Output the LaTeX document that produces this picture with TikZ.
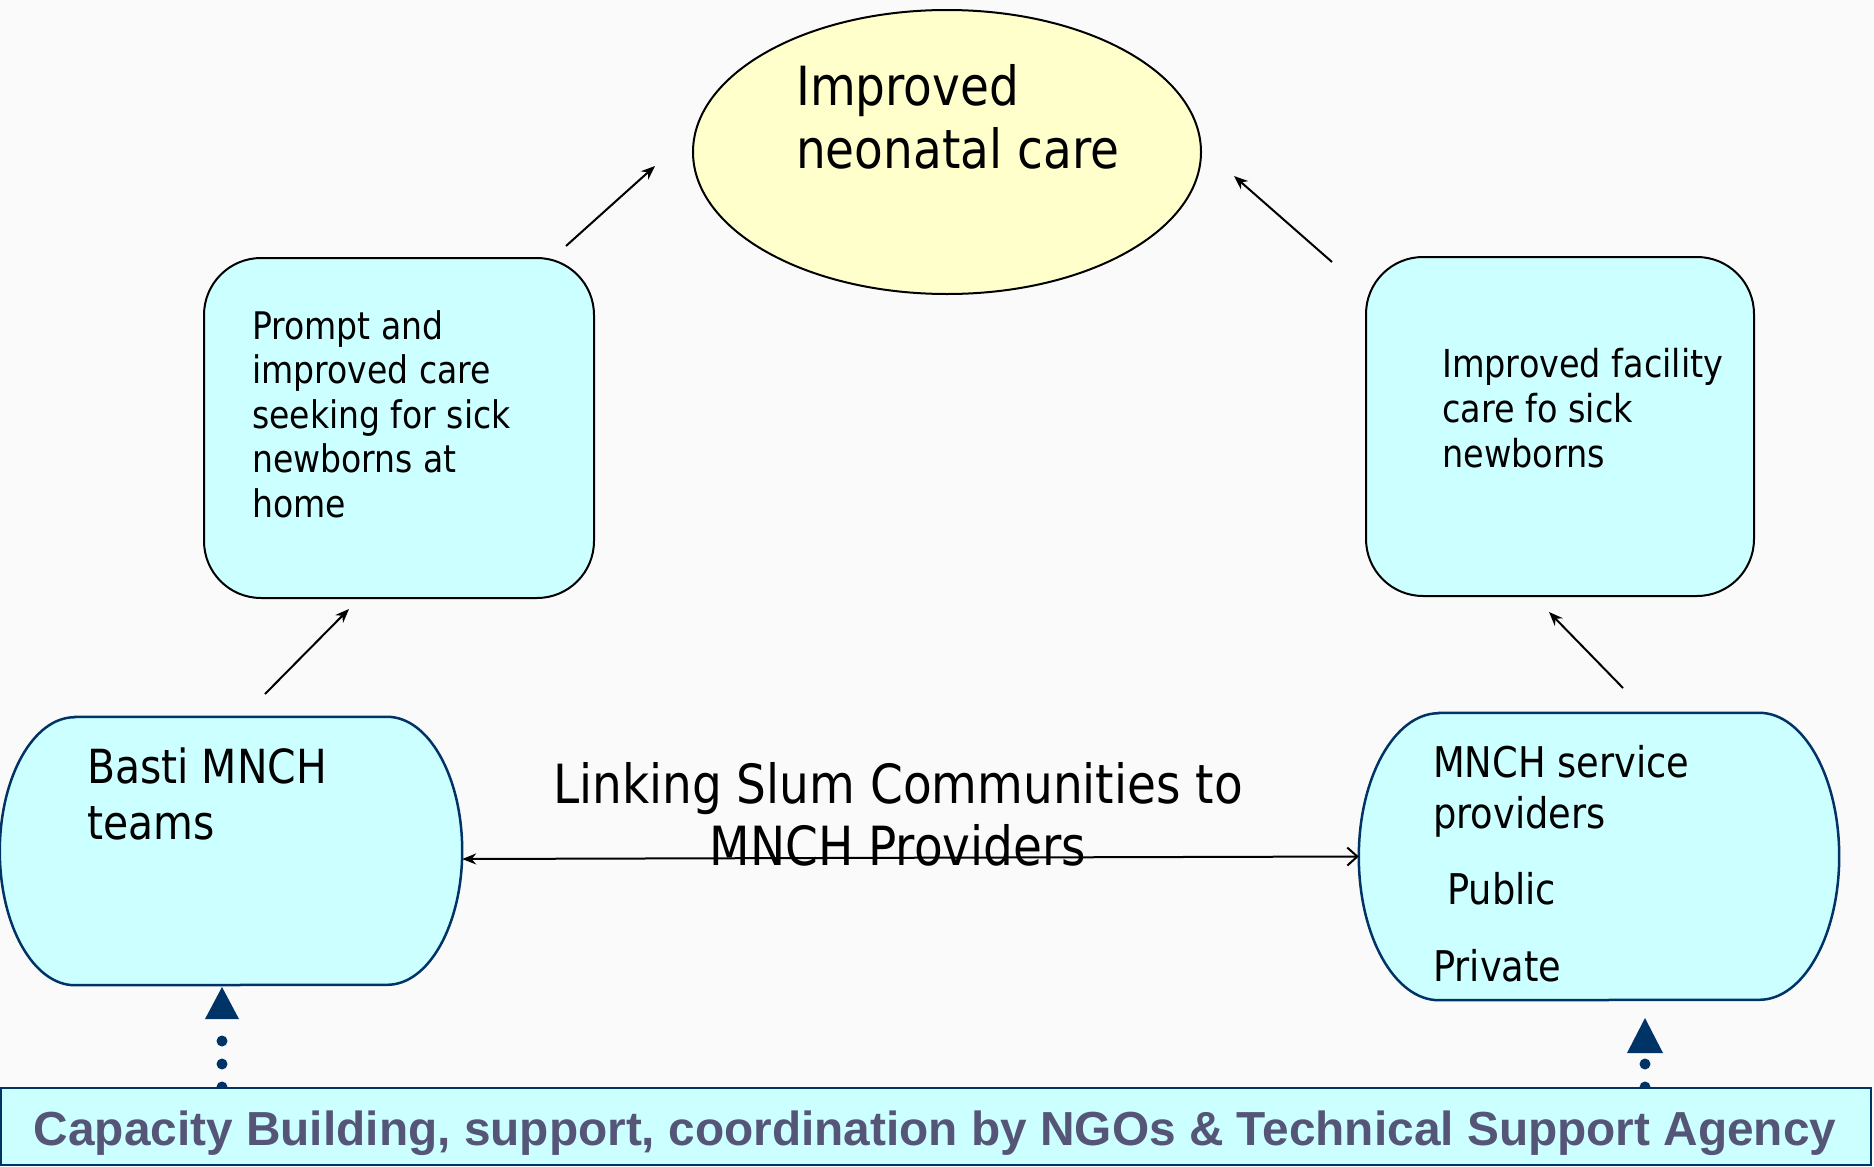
\documentclass[tikz,border=0pt]{standalone}
\usepackage{fontspec}
\setmainfont{DejaVu Sans}[FakeStretch=0.87]
\newfontfamily\bannerfont{Liberation Sans}
\usetikzlibrary{arrows.meta,shapes.geometric}
\definecolor{bg}{HTML}{FAFAFA}
\definecolor{cyanfill}{HTML}{CCFFFF}
\definecolor{yellowfill}{HTML}{FFFFCC}
\definecolor{navy}{HTML}{003366}
\definecolor{bannertext}{HTML}{555577}
\tikzset{
  goalshape/.style={ellipse, draw=black, line width=2pt, fill=yellowfill, inner sep=0pt},
  outcomebox/.style={draw=black, line width=2pt, fill=cyanfill, rounded corners=57pt, inner sep=0pt},
  stadiumbox/.style={draw=navy, line width=2.5pt, fill=cyanfill},
  anchorbox/.style={inner sep=0pt},
  txt/.style={inner sep=0pt, align=left, anchor=base west},
  flowarrow/.style={line width=2pt, -{Stealth[length=14pt,width=11pt]}},
  linkarrow/.style={line width=2pt, {Stealth[length=14pt,width=11pt]}-{Straight Barb[length=10pt,width=18pt]}},
  dotline/.style={draw=navy, line width=11pt, line cap=round, dash pattern=on 0pt off 23pt},
  tipfill/.style={fill=navy},
  bannerbox/.style={draw=navy, line width=2.5pt, fill=cyanfill, inner sep=0pt}
}
\begin{document}
\begin{tikzpicture}[x=1pt,y=-1pt]
\fill[bg] (0,0) rectangle (1874,1167);
\useasboundingbox (0,0) rectangle (1874,1167);

% goal ellipse
\node[goalshape, minimum width=508pt, minimum height=284pt] (goal) at (947,152) {};
\node[txt, font=\fontsize{54}{63}\selectfont] (goaltxt) at (796,168) {Improved\\neonatal care};

% outcome boxes
\node[outcomebox, minimum width=390pt, minimum height=340pt] (home) at (399,428) {};
\node[txt, font=\fontsize{38}{44.5}\selectfont] (hometxt) at (252,517) {Prompt and\\improved care\\seeking for sick\\newborns at\\home};

\node[outcomebox, minimum width=388pt, minimum height=339pt] (fac) at (1560,426.5) {};
\node[txt, font=\fontsize{38.5}{44.8}\selectfont] (factxt) at (1442,467) {Improved facility\\care fo sick\\newborns};

% stadium boxes
\node[anchorbox, minimum width=462pt, minimum height=268pt] (basti) at (231,851) {};
\draw[stadiumbox] ([xshift=75pt]basti.north west) -- ([xshift=-75pt]basti.north east)
  arc[start angle=90, end angle=-90, x radius=75pt, y radius=134pt]
  -- ([xshift=75pt]basti.south west)
  arc[start angle=270, end angle=90, x radius=75pt, y radius=134pt] -- cycle;
\node[txt, font=\fontsize{47}{56}\selectfont] (bastitxt) at (87,839) {Basti MNCH\\teams};

\node[anchorbox, minimum width=480pt, minimum height=287pt] (prov) at (1599,856.5) {};
\draw[stadiumbox] ([xshift=80pt]prov.north west) -- ([xshift=-80pt]prov.north east)
  arc[start angle=90, end angle=-90, x radius=80pt, y radius=143.5pt]
  -- ([xshift=80pt]prov.south west)
  arc[start angle=270, end angle=90, x radius=80pt, y radius=143.5pt] -- cycle;
\node[txt, font=\fontsize{42.3}{51}\selectfont] (provtxt) at (1433,981) {MNCH service\\providers\\[25pt]\hspace*{14pt}Public\\[26pt]Private};

% link label and arrow
\node[inner sep=0pt, align=center, anchor=base, font=\fontsize{54}{62}\selectfont] (linktxt) at (898,865) {Linking Slum Communities to\\MNCH Providers};
\draw[linkarrow] ([yshift=-8pt]basti.east) -- (prov.west);

% diagonal arrows
\coordinate (a1s) at (566,246); \coordinate (a1e) at (655,166);
\coordinate (a2s) at (1332,262); \coordinate (a2e) at (1234,176);
\coordinate (a3s) at (265,694); \coordinate (a3e) at (349,609);
\coordinate (a4s) at (1623,688); \coordinate (a4e) at (1549,612);
\draw[flowarrow] (a1s) -- (a1e);
\draw[flowarrow] (a2s) -- (a2e);
\draw[flowarrow] (a3s) -- (a3e);
\draw[flowarrow] (a4s) -- (a4e);

% dotted support arrows
\coordinate (d1s) at (222,1087); \coordinate (d1e) at (222,1018);
\coordinate (d2s) at (1645,1087); \coordinate (d2e) at (1645,1053);
\draw[dotline] (d1s) -- (d1e);
\draw[dotline] (d2s) -- (d2e);
\fill[tipfill] (222,987) -- (239,1019) -- (205,1019) -- cycle;
\fill[tipfill] (1645,1018) -- (1663,1053) -- (1627,1053) -- cycle;

% banner
\node[bannerbox, minimum width=1870pt, minimum height=77pt] (banner) at (936,1126.5) {};
\node[inner sep=0pt, anchor=base, font=\bannerfont\bfseries\fontsize{47.8}{57}\selectfont, text=bannertext] (bannertxt) at (935,1145) {Capacity Building, support, coordination by NGOs \& Technical Support Agency};
\end{tikzpicture}
\end{document}
